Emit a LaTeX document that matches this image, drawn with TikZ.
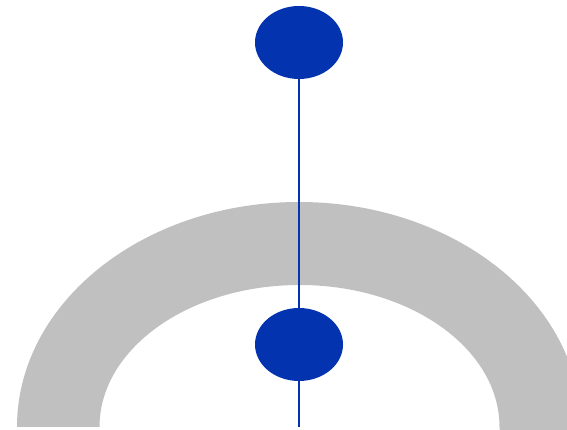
\documentclass[tikz,border=0pt]{standalone}
\definecolor{archgray}{RGB}{192,192,192}
\definecolor{dotblue}{RGB}{4,51,176}
\tikzset{
  dot/.style={ellipse, fill=dotblue, minimum width=88pt, minimum height=73pt, inner sep=0pt},
  stem/.style={draw=dotblue, line width=1.6pt}
}
\usetikzlibrary{shapes.geometric}
\begin{document}
\begin{tikzpicture}[x=1pt,y=1pt]
\useasboundingbox (0,0) rectangle (567,430);
\begin{scope}
\clip (0,0) rectangle (567,430);
\fill[archgray] (17,3) arc[start angle=180,end angle=0,x radius=282,y radius=225]
  -- (581,0) -- (499.8,0) -- (499.5,3) arc[start angle=0,end angle=180,x radius=200,y radius=142] -- cycle;
\end{scope}
\node[dot] (top) at (299,387.5) {};
\coordinate (bottomend) at (299,3);
\draw[stem] (top) -- (bottomend);
\node[dot] (low) at (299,85.5) {};
\end{tikzpicture}
\end{document}
